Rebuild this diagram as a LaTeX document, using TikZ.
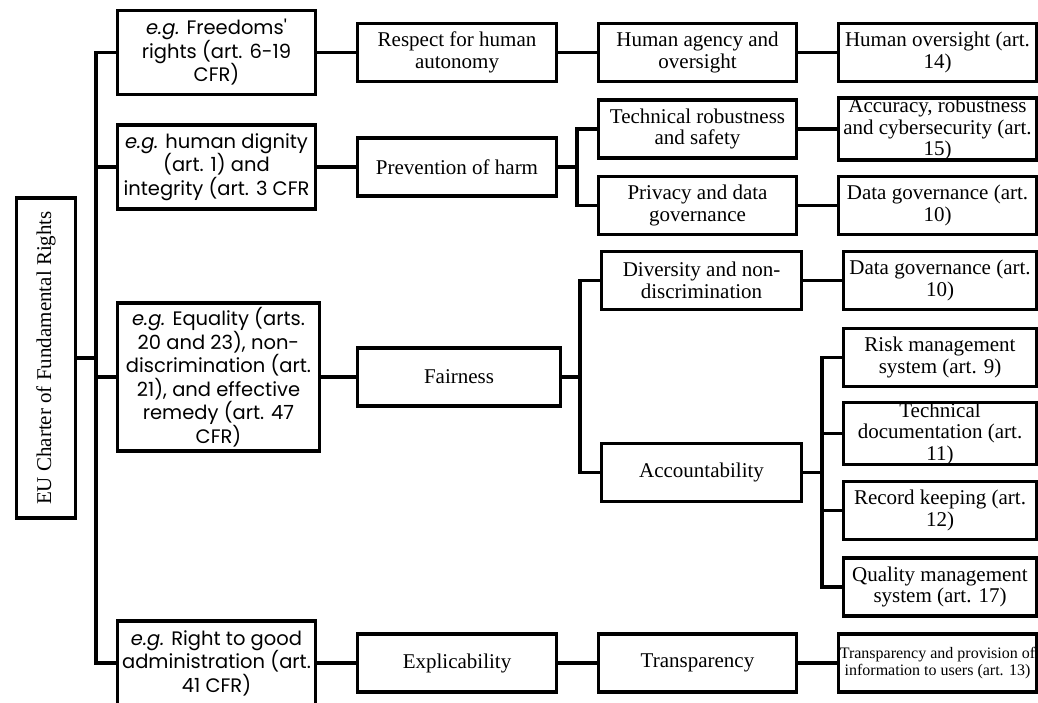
\documentclass[tikz,border=0pt]{standalone}
\usepackage{fontspec}
\setmainfont{Liberation Serif}
\newfontfamily\gothic{Poppins}

\begin{document}
\begin{tikzpicture}[x=1pt,y=-1pt,
    box/.style={draw,line width=3.6pt,align=center,inner xsep=1pt,inner ysep=0pt,
        minimum width=198pt,minimum height=58pt,font=\fontsize{21}{21.5}\selectfont},
    rights/.style={box,minimum height=84pt,font=\gothic\fontsize{19.5}{23.5}\selectfont},
    tiny/.style={box,font=\fontsize{16}{17.5}\selectfont},
    link/.style={line width=3.6pt,line join=miter}]
\useasboundingbox (0,0) rectangle (1038,703);

    % root
    \node[box,rotate=90,minimum width=320pt,minimum height=59pt] (root) at (46,358) {EU Charter of Fundamental Rights};
    \coordinate (j0) at (96,358);

    % rights from the charter
    \node[rights] (free) at (216.5,52.5) {\textit{e.g.} Freedoms'\\rights (art. 6-19\\CFR)};
    \node[rights] (dign) at (216.5,167) {\textit{e.g.} human dignity\\(art. 1) and\\integrity (art. 3 CFR};
    \node[rights,minimum width=202pt,minimum height=148pt] (equal) at (218.5,377) {\textit{e.g.} Equality (arts.\\20 and 23), non-\\discrimination (art.\\21), and effective\\remedy (art. 47\\CFR)};
    \node[rights] (admin) at (216.5,663) {\textit{e.g.} Right to good\\administration (art.\\41 CFR)};

    % principles
    \node[box,minimum width=199pt] (respect) at (457,52.5) {Respect for human\\autonomy};
    \node[box,minimum width=199pt] (harm) at (457,167) {Prevention of harm};
    \node[box,minimum width=203pt] (fair) at (459,377) {Fairness};
    \node[box,minimum width=199pt] (expl) at (457,663) {Explicability};

    % requirements
    \node[box] (agency) at (697.5,52.5) {Human agency and\\oversight};
    \node[box] (robust) at (697.5,129) {Technical robustness\\and safety};
    \node[box] (privacy) at (697.5,205.5) {Privacy and data\\governance};
    \node[box,minimum width=200pt] (divers) at (701.5,280.5) {Diversity and non-\\discrimination};
    \node[box,minimum width=200pt] (account) at (701.5,472.5) {Accountability};
    \node[box] (transp) at (697.5,663) {Transparency};

    % articles
    \node[box] (oversight) at (937.5,52.5) {Human oversight (art.\\14)};
    \node[box] (accuracy) at (937.5,129) {Accuracy, robustness\\and cybersecurity (art.\\15)};
    \node[box] (datagov) at (937.5,205.5) {Data governance (art.\\10)};
    \node[box,minimum width=193pt] (datagovb) at (940,280.5) {Data governance (art.\\10)};
    \node[box,minimum width=193pt] (risk) at (940,357.5) {Risk management\\system (art. 9)};
    \node[box,minimum width=193pt] (techdoc) at (940,433.5) {Technical\\documentation (art.\\11)};
    \node[box,minimum width=193pt] (record) at (940,510.5) {Record keeping (art.\\12)};
    \node[box,minimum width=193pt] (quality) at (940,587) {Quality management\\system (art. 17)};
    \node[tiny] (inform) at (937.5,663) {Transparency and provision of\\information to users (art. 13)};

    % connectors
    \draw[link] (root) -- (j0);
    \foreach \n in {free,dign,equal,admin} {
        \draw[link] (j0) |- (\n.west);
    }
    \draw[link] (free) -- (respect);
    \draw[link] (dign) -- (harm);
    \draw[link] (equal) -- (fair);
    \draw[link] (admin) -- (expl);

    \draw[link] (respect) -- (agency);
    \coordinate (jh) at (577,167);
    \draw[link] (harm) -- (jh);
    \draw[link] (jh) |- (robust.west);
    \draw[link] (jh) |- (privacy.west);
    \coordinate (jf) at (580,377);
    \draw[link] (fair) -- (jf);
    \draw[link] (jf) |- (divers.west);
    \draw[link] (jf) |- (account.west);
    \draw[link] (expl) -- (transp);

    \draw[link] (agency) -- (oversight);
    \draw[link] (robust) -- (accuracy);
    \draw[link] (privacy) -- (datagov);
    \draw[link] (divers) -- (datagovb);
    \coordinate (ja) at (822,472.5);
    \draw[link] (account) -- (ja);
    \foreach \n in {risk,techdoc,record,quality} {
        \draw[link] (ja) |- (\n.west);
    }
    \draw[link] (transp) -- (inform);
\end{tikzpicture}
\end{document}
